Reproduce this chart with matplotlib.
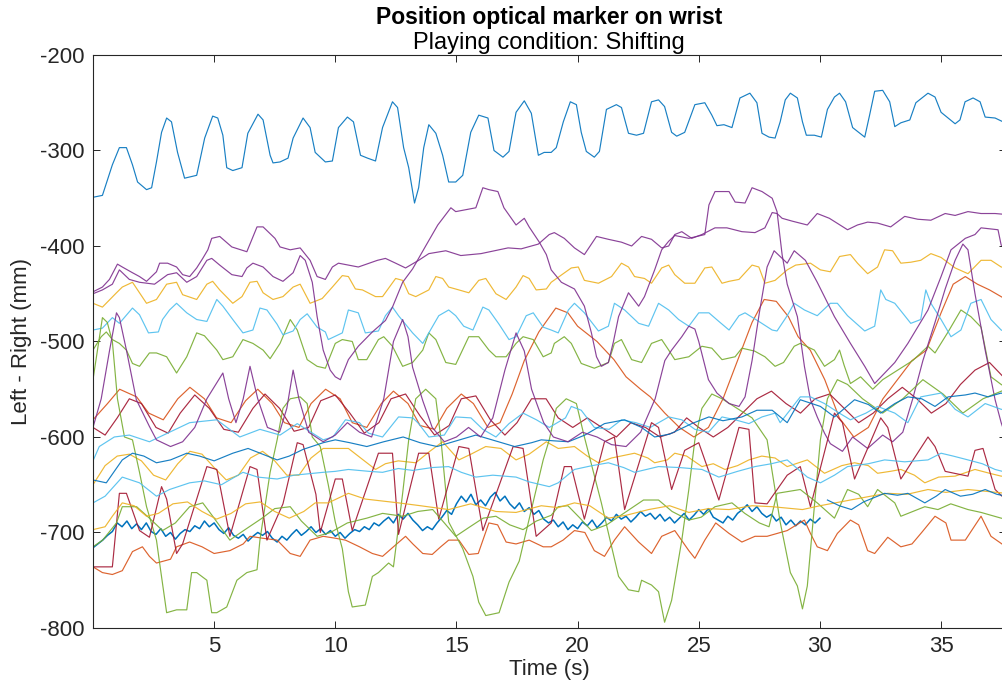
import numpy as np
import matplotlib
matplotlib.use('Agg')
import matplotlib.pyplot as plt

plt.rcParams['font.family'] = ['Liberation Sans', 'DejaVu Sans']
plt.rcParams['axes.unicode_minus'] = False

# (time s, position mm) samples for each trial trace
blue_top = [(0, -349), (0.39, -347), (0.80, -315), (1.09, -297), (1.38, -297), (1.63, -315), (1.84, -333), (2.21, -341),
            (2.42, -339), (2.62, -312), (2.83, -281), (3.04, -266), (3.24, -270), (3.49, -302), (3.78, -329), (4.28, -326),
            (4.61, -287), (4.94, -264), (5.15, -266), (5.36, -284), (5.52, -318), (5.77, -321), (6.15, -318), (6.39, -282),
            (6.81, -262), (7.02, -268), (7.31, -305), (7.43, -313), (7.72, -312), (8.05, -308), (8.26, -287), (8.67, -266),
            (8.96, -276), (9.17, -302), (9.59, -312), (9.88, -311), (10.13, -276), (10.50, -265), (10.75, -270), (11.04, -305),
            (11.33, -308), (11.66, -311), (11.95, -276), (12.36, -249), (12.57, -255), (12.82, -297), (13.03, -318), (13.27, -355),
            (13.44, -339), (13.65, -297), (13.86, -273), (14.15, -282), (14.43, -305), (14.68, -333), (14.97, -333), (15.26, -326),
            (15.59, -281), (15.92, -263), (16.30, -266), (16.55, -300), (16.92, -307), (17.17, -301), (17.46, -260), (17.80, -248),
            (18.09, -261), (18.38, -305), (18.62, -302), (18.91, -302), (19.12, -297), (19.41, -270), (19.70, -249), (19.95, -252),
            (20.15, -281), (20.36, -301), (20.69, -307), (20.90, -301), (21.19, -257), (21.60, -252), (21.81, -255), (22.10, -282),
            (22.43, -284), (22.72, -282), (23.05, -249), (23.34, -247), (23.59, -254), (23.88, -281), (24.09, -285), (24.42, -281),
            (24.84, -252), (25.25, -250), (25.54, -263), (25.75, -274), (26.04, -273), (26.37, -276), (26.70, -245), (27.11, -240),
            (27.40, -250), (27.61, -282), (27.90, -286), (28.15, -287), (28.36, -270), (28.57, -247), (28.78, -240), (29.07, -245),
            (29.28, -270), (29.44, -284), (29.77, -284), (30.06, -286), (30.31, -257), (30.60, -244), (30.81, -240), (31.06, -249),
            (31.35, -276), (31.85, -286), (32.05, -263), (32.26, -238), (32.59, -237), (32.88, -249), (33.09, -275), (33.34, -271),
            (33.71, -268), (33.96, -250), (34.46, -240), (34.75, -244), (35.00, -260), (35.29, -266), (35.58, -272), (35.78, -268),
            (35.99, -249), (36.32, -245), (36.61, -249), (36.82, -265), (37.23, -266), (37.64, -271)]

red_mid = [(0, -582), (0.6, -565), (1.1, -550), (1.8, -558), (2.3, -575), (2.9, -582), (3.5, -560), (4.0, -548), (4.6, -560),
           (5.1, -580), (5.7, -585), (6.3, -562), (6.8, -550), (7.4, -565), (7.9, -585), (8.5, -590), (9.0, -565), (9.6, -550),
           (10.2, -560), (10.7, -585), (11.3, -590), (11.9, -565), (12.4, -552), (13.0, -565), (13.5, -588), (14.1, -592),
           (14.6, -570), (15.2, -555), (15.7, -565), (16.3, -590), (16.8, -585), (17.3, -555), (17.8, -520), (18.4, -490),
           (19.1, -465), (19.6, -470), (20.0, -484), (20.8, -500), (21.5, -519), (22.0, -537), (22.6, -550), (23.0, -558),
           (23.6, -575), (24.2, -590), (24.8, -600), (25.4, -590), (26.0, -560), (26.6, -520), (27.2, -480), (27.7, -456),
           (28.2, -458), (28.7, -474), (29.1, -495), (29.6, -509), (30.2, -540), (30.8, -580), (31.4, -600), (32.0, -590),
           (32.6, -560), (33.2, -540), (33.8, -520), (34.4, -509), (35.0, -470), (35.5, -440), (36.0, -432), (36.5, -440),
           (37.0, -446), (37.68, -456)]

yellow_top = [(0, -460), (0.39, -464), (0.97, -449), (1.21, -443), (1.63, -438), (1.92, -449), (2.21, -460), (2.62, -456),
              (3.04, -440), (3.45, -438), (3.70, -451), (4.28, -456), (4.70, -440), (4.94, -437), (5.23, -446), (5.77, -460),
              (6.15, -453), (6.48, -438), (6.77, -437), (7.02, -449), (7.43, -456), (7.84, -453), (8.26, -443), (8.55, -440),
              (8.96, -460), (9.46, -455), (9.88, -443), (10.29, -431), (10.54, -432), (10.83, -445), (11.12, -446), (11.66, -453),
              (11.95, -453), (12.49, -434), (12.78, -436), (13.03, -450), (13.32, -453), (13.86, -446), (14.15, -432), (14.43, -434),
              (14.68, -443), (15.10, -446), (15.51, -449), (15.92, -436), (16.21, -434), (16.63, -450), (17.05, -456), (17.46, -443),
              (17.75, -431), (18.00, -434), (18.29, -446), (18.71, -445), (18.91, -438), (19.74, -423), (20.03, -422), (20.28, -436),
              (20.86, -439), (21.40, -432), (21.81, -418), (22.10, -422), (22.35, -432), (22.76, -434), (23.05, -439), (23.47, -423),
              (23.76, -420), (24.01, -430), (24.42, -439), (24.84, -439), (25.25, -423), (25.54, -422), (25.96, -439), (26.25, -437),
              (26.66, -435), (27.20, -420), (27.48, -422), (27.73, -439), (28.15, -436), (28.65, -425), (29.0, -420), (29.61, -418),
              (30.02, -425), (30.43, -427), (30.81, -411), (31.26, -409), (31.55, -418), (31.97, -429), (32.38, -422), (32.67, -404),
              (33.0, -405), (33.34, -418), (33.75, -417), (34.16, -415), (34.58, -408), (35.0, -412), (35.58, -423), (36.11, -429),
              (36.65, -415), (37.06, -415), (37.48, -422), (37.68, -423)]

purple_top = [(0, -448), (0.39, -443), (0.68, -435), (1.01, -419), (1.21, -422), (1.63, -428), (1.92, -432), (2.21, -437),
              (2.62, -427), (2.75, -418), (3.08, -418), (3.45, -422), (3.70, -430), (3.99, -432), (4.28, -423), (4.53, -413),
              (4.74, -404), (4.90, -392), (5.23, -390), (5.73, -401), (6.35, -406), (6.77, -380), (7.02, -380), (7.51, -392),
              (7.72, -401), (8.14, -404), (8.55, -402), (8.96, -415), (9.25, -432), (9.59, -435), (9.88, -422), (10.13, -418),
              (10.95, -422), (11.74, -415), (12.07, -413), (12.49, -418), (12.90, -423), (13.44, -415), (13.86, -408), (14.56, -405),
              (15.18, -410), (16.01, -408), (17.13, -402), (17.67, -403), (18.38, -398), (18.83, -388), (19.04, -386), (19.45, -392),
              (19.87, -402), (20.28, -409), (20.78, -390), (21.27, -393), (21.81, -396), (22.23, -400), (22.64, -390), (23.05, -393),
              (23.47, -402), (23.76, -400), (24.01, -388), (24.30, -385), (24.71, -392), (25.13, -388), (25.67, -381), (26.16, -381),
              (26.78, -385), (27.32, -386), (27.73, -381), (28.03, -365), (28.23, -366), (28.44, -371), (28.86, -374), (29.48, -378),
              (29.89, -366), (30.39, -371), (31.14, -383), (31.55, -378), (31.97, -375), (32.38, -376), (32.92, -380), (33.50, -369),
              (34.04, -372), (34.58, -373), (35.17, -366), (35.58, -368), (36.11, -364), (36.65, -366), (37.23, -366), (37.68, -367)]

green_top = [(0, -509), (0.34, -495), (0.55, -490), (0.80, -498), (1.09, -502), (1.38, -509), (1.63, -523), (1.92, -526),
             (2.33, -512), (2.62, -512), (3.04, -516), (3.45, -533), (3.87, -516), (4.28, -491), (4.6, -494), (5.11, -509),
             (5.36, -519), (5.77, -516), (6.19, -498), (6.60, -502), (7.02, -509), (7.31, -518), (7.72, -502), (8.14, -477),
             (8.43, -488), (8.84, -519), (9.25, -526), (9.59, -528), (10.0, -502), (10.29, -498), (10.7, -500), (10.95, -519),
             (11.3, -519), (11.78, -498), (12.0, -495), (12.36, -505), (12.78, -526), (13.19, -522), (13.61, -509), (13.86, -491),
             (14.15, -498), (14.56, -522), (14.97, -524), (15.51, -495), (15.92, -495), (16.34, -509), (16.63, -516), (17.05, -516),
             (17.46, -502), (17.75, -495), (18.17, -498), (18.58, -516), (18.91, -512), (19.04, -502), (19.45, -495), (19.74, -502),
             (20.15, -523), (20.69, -528), (21.27, -522), (21.52, -502), (21.81, -498), (22.23, -519), (22.64, -522), (23.05, -502),
             (23.47, -498), (23.76, -509), (24.01, -519), (24.59, -516), (25.13, -505), (25.54, -507), (25.96, -519), (26.5, -516),
             (26.78, -507), (27.3, -510), (27.73, -516), (28.15, -526), (28.5, -522), (28.94, -505), (29.19, -502), (29.77, -509),
             (30.19, -526), (30.60, -519), (30.81, -509), (31.0, -525), (31.26, -544), (31.68, -537), (32.18, -550), (32.59, -540),
             (33.21, -530), (33.83, -520), (34.46, -505), (34.75, -512), (35.29, -490), (35.82, -467), (36.23, -474), (36.65, -485),
             (37.06, -537), (37.48, -545), (37.68, -548)]

cyan_top = [(0, -488), (0.39, -486), (0.80, -475), (1.09, -481), (1.63, -465), (1.92, -472), (2.29, -491), (2.7, -490),
            (2.87, -477), (3.16, -467), (3.45, -460), (3.87, -470), (4.28, -477), (4.70, -479), (5.11, -456), (5.36, -463),
            (5.77, -477), (6.19, -491), (6.60, -488), (6.89, -465), (7.18, -467), (7.60, -482), (7.84, -493), (8.26, -489),
            (8.55, -477), (8.84, -471), (9.25, -485), (9.59, -490), (9.71, -498), (10.29, -491), (10.54, -467), (10.95, -470),
            (11.24, -491), (11.78, -489), (12.07, -473), (12.36, -464), (12.61, -473), (13.19, -491), (13.61, -502), (13.86, -491),
            (14.27, -473), (14.68, -467), (14.97, -473), (15.3, -484), (15.68, -488), (16.09, -464), (16.34, -467), (16.76, -482),
            (17.17, -498), (17.46, -495), (17.88, -473), (18.17, -470), (18.58, -485), (18.91, -488), (19.2, -491), (19.62, -467),
            (19.87, -460), (20.28, -470), (20.86, -489), (21.27, -484), (21.52, -460), (21.94, -467), (22.52, -481), (22.93, -484),
            (23.34, -460), (23.76, -467), (24.17, -477), (24.59, -484), (25.0, -470), (25.42, -470), (25.83, -479), (26.25, -488),
            (26.66, -473), (26.91, -470), (27.48, -479), (28.03, -488), (28.23, -489), (28.65, -473), (28.94, -460), (29.36, -467),
            (29.89, -473), (30.43, -460), (30.72, -460), (31.14, -473), (31.85, -489), (32.26, -484), (32.51, -446), (32.72, -456),
            (33.09, -460), (33.50, -473), (33.75, -481), (34.16, -477), (34.37, -446), (34.58, -460), (35.0, -477), (35.41, -495),
            (35.82, -488), (36.23, -460), (36.65, -456), (37.06, -477), (37.48, -488), (37.68, -490)]

darkred_mid = [(0, -590), (0.5, -598), (1.0, -580), (1.5, -560), (2.0, -565), (2.6, -590), (3.1, -596), (3.6, -575), (4.2, -556),
               (4.8, -570), (5.4, -592), (6.0, -595), (6.6, -570), (7.1, -555), (7.7, -570), (8.3, -594), (8.9, -590), (9.4, -562),
               (10.0, -556), (10.6, -575), (11.2, -596), (11.8, -585), (12.3, -560), (12.9, -555), (13.5, -578), (14.1, -598),
               (14.7, -588), (15.2, -560), (15.8, -557), (16.4, -582), (17.0, -598), (17.5, -585), (18.1, -560), (18.7, -560),
               (19.2, -580), (19.8, -590), (20.4, -580), (21.0, -590), (21.6, -600), (22.2, -585), (22.8, -590), (23.4, -600),
               (24.0, -595), (24.5, -580), (25.0, -590), (25.6, -600), (26.2, -590), (26.8, -575), (27.4, -560), (28.0, -552),
               (28.6, -565), (29.2, -575), (29.8, -560), (30.4, -555), (31.0, -570), (31.6, -585), (32.2, -575), (32.8, -560),
               (33.4, -548), (34.0, -560), (34.6, -575), (35.2, -565), (35.8, -545), (36.4, -530), (37.0, -522), (37.68, -540)]

# noisy trace sampled every 0.2 s from t = 0
blue_noisy_y = [-716, -712, -708, -703, -699, -690, -694, -688, -696, -691, -697, -690, -699, -702, -696,
                -704, -700, -707, -701, -697, -699, -693, -696, -688, -694, -690, -697, -701, -695, -703,
                -706, -702, -709, -704, -700, -703, -699, -706, -710, -704, -708, -702, -697, -703, -699,
                -694, -700, -696, -702, -698, -704, -700, -706, -701, -697, -699, -694, -697, -690, -693,
                -688, -684, -690, -681, -686, -680, -687, -692, -698, -694, -697, -690, -684, -677, -681,
                -670, -662, -668, -660, -671, -666, -672, -663, -658, -667, -662, -670, -675, -669, -678,
                -674, -681, -677, -686, -690, -687, -694, -689, -697, -692, -696, -689, -693, -687, -695,
                -690, -684, -688, -681, -686, -683, -689, -684, -678, -683, -680, -686, -681, -688, -684,
                -690, -685, -680, -687, -682, -676, -681, -675, -684, -687, -690, -683, -687, -680, -676,
                -671, -678, -673, -680, -684, -681, -688, -684, -692, -687, -693, -688, -692, -686, -690, -685]
blue_late = [(30.31, -666), (30.8, -672), (31.3, -676), (31.8, -668), (32.67, -659), (33.2, -661), (33.63, -659),
             (34.33, -669), (34.8, -662), (35.17, -655), (35.8, -662), (36.3, -660), (36.82, -655), (37.3, -660), (37.68, -662)]

red_low = [(0, -736), (0.39, -742), (0.80, -744), (1.21, -740), (1.63, -720), (2.04, -715), (2.33, -725), (2.62, -732),
           (3.2, -728), (3.45, -715), (3.99, -710), (4.5, -715), (5.0, -722), (5.65, -719), (6.2, -712), (6.48, -704),
           (7.0, -706), (7.60, -708), (8.14, -722), (8.55, -725), (8.96, -708), (9.50, -704), (10.0, -706), (10.42, -708),
           (11.0, -715), (11.53, -722), (11.95, -725), (12.4, -715), (12.90, -704), (13.2, -712), (13.61, -722), (14.0, -723),
           (14.35, -715), (14.68, -708), (15.1, -708), (15.51, -723), (15.9, -722), (16.34, -690), (16.7, -692), (17.05, -710),
           (17.46, -712), (18.00, -708), (18.58, -715), (18.91, -715), (19.4, -708), (19.87, -698), (20.3, -700), (20.69, -719),
           (21.11, -725), (21.52, -708), (21.94, -694), (22.52, -710), (23.05, -722), (23.47, -704), (24.01, -698), (24.59, -719),
           (24.84, -727), (25.25, -708), (25.7, -690), (26.25, -701), (26.78, -710), (27.32, -704), (27.82, -704), (28.65, -698),
           (29.36, -687), (29.61, -701), (29.89, -715), (30.31, -719), (30.72, -701), (31.26, -687), (31.6, -692), (31.97, -719),
           (32.26, -722), (32.8, -705), (33.34, -715), (33.8, -712), (34.2, -700), (34.75, -683), (35.2, -690), (35.41, -708),
           (36.0, -708), (36.65, -683), (37.06, -704), (37.68, -715)]

yellow_mid = [(0, -650), (0.5, -630), (1.0, -620), (1.5, -618), (2.0, -625), (2.5, -640), (3.0, -645), (3.5, -628), (4.0, -615),
              (4.5, -618), (5.0, -632), (5.5, -645), (6.0, -640), (6.5, -622), (7.0, -615), (7.5, -625), (8.0, -640), (8.5, -640),
              (9.0, -622), (9.5, -612), (10.0, -612), (10.54, -612), (11.2, -625), (11.66, -634), (12.07, -628), (12.6, -625),
              (13.32, -627), (13.9, -615), (14.43, -605), (15.10, -624), (15.6, -618), (16.21, -610), (16.84, -612), (17.46, -624),
              (18.00, -618), (18.71, -605), (19.2, -612), (19.87, -610), (20.4, -620), (20.86, -627), (21.4, -622), (22.35, -617),
              (22.9, -622), (23.18, -627), (23.7, -624), (24.01, -617), (24.5, -620), (25.13, -631), (25.6, -628), (26.08, -634),
              (26.6, -630), (27.07, -624), (27.6, -620), (28.15, -622), (28.65, -631), (29.48, -624), (30.19, -638), (30.9, -630),
              (31.43, -627), (32.0, -630), (32.38, -638), (32.9, -636), (33.34, -634), (33.9, -640), (34.33, -648), (34.9, -642),
              (35.58, -641), (36.40, -634), (37.0, -638), (37.48, -641), (37.68, -641)]

purple_wide = [(0, -450), (0.39, -446), (0.80, -440), (1.09, -425), (1.50, -435), (1.92, -438), (2.54, -440), (3.08, -430),
               (3.45, -428), (3.87, -438), (4.28, -432), (4.70, -415), (4.90, -413), (5.23, -420), (5.73, -430), (6.15, -432),
               (6.35, -423), (6.60, -418), (7.02, -422), (7.43, -432), (7.84, -437), (8.26, -428), (8.55, -410), (8.76, -415),
               (9.05, -438), (9.25, -474), (9.50, -509), (9.79, -530), (10.00, -537), (10.21, -540), (10.54, -519), (10.95, -505),
               (11.53, -490), (12.07, -478), (12.36, -464), (12.78, -438), (13.19, -424), (13.73, -400), (14.23, -378), (14.77, -360),
               (14.97, -364), (15.80, -360), (16.09, -339), (16.34, -341), (16.71, -343), (16.96, -360), (17.46, -378), (17.80, -371),
               (18.00, -380), (18.42, -396), (18.71, -409), (18.91, -425), (19.33, -438), (19.87, -445), (20.28, -463), (20.57, -491),
               (20.78, -516), (20.98, -526), (21.27, -522), (21.48, -500), (21.69, -474), (22.10, -449), (22.52, -463), (22.76, -453),
               (23.18, -425), (23.47, -404), (23.76, -395), (24.01, -389), (24.59, -392), (25.25, -388), (25.42, -357), (25.67, -343),
               (26.25, -343), (26.50, -354), (26.91, -355), (27.20, -339), (27.61, -343), (28.03, -350), (28.23, -364), (28.44, -409),
               (28.65, -440), (29.07, -474), (29.36, -526), (29.61, -561), (29.89, -579), (30.19, -596), (30.43, -607), (30.93, -615),
               (31.35, -600), (31.97, -612), (32.59, -598), (33.0, -605), (33.42, -595), (33.83, -560), (34.25, -520), (34.75, -480),
               (35.17, -445), (35.58, -415), (35.90, -398), (36.11, -404), (36.40, -450), (36.82, -509), (37.23, -561), (37.48, -585),
               (37.68, -600)]

green_dives = [(0, -540), (0.39, -475), (0.59, -480), (0.80, -500), (1.01, -560), (1.30, -600), (1.63, -603), (1.92, -637),
               (2.21, -673), (2.62, -708), (2.75, -732), (3.04, -784), (3.45, -781), (3.87, -781), (4.07, -742), (4.28, -742),
               (4.70, -750), (4.90, -784), (5.11, -784), (5.52, -778), (5.94, -750), (6.35, -742), (6.77, -739), (6.89, -708),
               (7.31, -637), (7.60, -603), (7.84, -570), (8.14, -560), (8.55, -558), (8.84, -565), (9.05, -600), (9.38, -610),
               (9.71, -650), (10.0, -689), (10.29, -717), (10.54, -762), (10.70, -778), (11.24, -776), (11.53, -746), (11.78, -742),
               (12.20, -732), (12.40, -736), (12.78, -659), (13.03, -603), (13.32, -560), (13.73, -550), (14.15, -560), (14.35, -600),
               (14.68, -689), (15.26, -717), (15.68, -746), (15.92, -773), (16.21, -787), (16.76, -784), (17.17, -752), (17.59, -730),
               (18.00, -686), (18.58, -624), (18.83, -603), (19.12, -570), (19.53, -560), (19.95, -565), (20.28, -600), (20.98, -669),
               (21.69, -746), (22.10, -760), (22.52, -762), (22.64, -750), (23.05, -755), (23.34, -762), (23.59, -794), (23.88, -771),
               (24.30, -708), (24.59, -655), (24.84, -603), (25.13, -570), (25.54, -555), (25.96, -560), (26.58, -570), (27.20, -580),
               (27.82, -603), (28.36, -689), (28.78, -742), (29.07, -756), (29.28, -780), (29.48, -756), (29.77, -673), (30.02, -603),
               (30.31, -560), (30.72, -540), (31.14, -545), (31.76, -560), (32.59, -575), (33.42, -560), (34.25, -540), (35.08, -555),
               (35.90, -575), (36.73, -560), (37.68, -550)]

cyan_mid = [(0, -625), (0.26, -610), (0.88, -600), (1.50, -598), (2.33, -605), (3.16, -595), (3.99, -585), (5.11, -582),
            (6.06, -600), (6.89, -592), (7.72, -598), (8.43, -586), (9.50, -603), (9.9, -600), (10.42, -582), (11.0, -585),
            (11.37, -596), (11.95, -600), (12.61, -579), (13.2, -580), (13.44, -586), (13.86, -600), (14.5, -598), (14.97, -579),
            (15.6, -580), (16.09, -592), (16.63, -600), (17.17, -586), (17.75, -575), (18.3, -582), (18.83, -590), (19.5, -580),
            (19.74, -568), (20.15, -572), (20.69, -590), (21.3, -592), (21.81, -582), (22.4, -585), (23.0, -590), (23.76, -579),
            (24.3, -582), (24.84, -592), (25.4, -595), (25.96, -579), (26.5, -582), (27.07, -586), (27.61, -579), (28.15, -575),
            (28.36, -585), (29.19, -558), (29.61, -558), (30.19, -565), (30.8, -575), (31.26, -582), (31.9, -575), (32.38, -568),
            (33.09, -575), (33.63, -585), (34.16, -558), (35.0, -554), (35.58, -571), (36.11, -579), (36.82, -565), (37.48, -571),
            (37.68, -572)]

darkred_spiky = [(0, -736), (0.80, -736), (1.09, -659), (1.38, -659), (1.92, -698), (2.33, -705), (2.83, -652), (3.04, -665),
                 (3.45, -722), (3.70, -712), (4.70, -631), (5.11, -634), (5.65, -704), (6.48, -631), (6.77, -634), (7.18, -708),
                 (7.84, -670), (8.43, -606), (8.67, -608), (9.2, -660), (9.38, -700), (10.00, -644), (10.29, -644), (10.70, -698),
                 (11.78, -617), (12.36, -617), (12.61, -702), (13.44, -617), (13.86, -617), (14.27, -686), (15.10, -610),
                 (15.51, -612), (16.09, -698), (17.34, -610), (17.75, -612), (18.29, -704), (18.91, -690), (19.45, -631),
                 (19.74, -631), (20.28, -686), (21.11, -605), (21.52, -600), (21.94, -676), (23.05, -585), (23.34, -590),
                 (23.88, -655), (24.42, -614), (25.00, -606), (25.83, -666), (26.66, -590), (27.07, -592), (27.32, -669),
                 (27.82, -670), (28.65, -640), (29.19, -631), (29.61, -673), (30.60, -575), (30.93, -585), (31.43, -644),
                 (32.51, -580), (32.80, -590), (33.34, -644), (34.46, -600), (34.75, -610), (35.17, -636), (36.11, -641),
                 (36.40, -614), (36.73, -612), (37.23, -655), (37.68, -666)]

blue_mid = [(0, -645), (0.55, -648), (1.21, -624), (1.63, -617), (2.1, -620), (2.62, -627), (3.2, -624), (3.87, -617),
            (4.4, -620), (5.0, -625), (5.77, -617), (6.4, -612), (7.0, -618), (7.60, -624), (8.1, -620), (8.67, -613),
            (9.50, -606), (10.0, -603), (10.6, -606), (11.3, -610), (12.0, -605), (12.8, -600), (13.5, -606), (14.2, -610),
            (15.0, -604), (15.8, -598), (16.6, -604), (17.4, -610), (18.1, -606), (18.50, -603), (19.0, -604), (19.62, -605),
            (20.3, -598), (21.11, -586), (21.94, -582), (22.64, -590), (23.18, -600), (23.8, -597), (24.71, -586), (25.42, -579),
            (26.0, -583), (26.78, -579), (27.40, -572), (28.03, -572), (28.65, -585), (29.19, -561), (30.02, -568), (30.60, -579),
            (31.43, -561), (32.0, -566), (32.51, -575), (33.09, -565), (33.63, -558), (34.2, -560), (34.75, -568), (35.29, -558),
            (36.0, -556), (36.40, -554), (36.94, -558), (37.48, -554), (37.68, -556)]

purple_low = [(0, -590), (0.34, -560), (0.68, -510), (0.97, -470), (1.09, -475), (1.38, -509), (1.79, -561), (2.33, -589),
              (2.62, -603), (3.2, -610), (3.7, -605), (4.2, -590), (4.7, -560), (5.36, -533), (5.6, -560), (5.9, -585),
              (6.2, -560), (6.48, -526), (6.8, -560), (7.2, -590), (7.7, -595), (8.0, -570), (8.26, -530), (8.5, -560),
              (8.9, -595), (9.5, -605), (10.0, -598), (10.5, -585), (11.0, -595), (11.5, -600), (12.0, -560), (12.4, -500),
              (12.78, -477), (13.0, -495), (13.19, -527), (13.61, -562), (14.0, -590), (14.5, -605), (15.0, -600), (15.5, -590),
              (16.0, -600), (16.5, -580), (17.0, -530), (17.46, -491), (17.8, -510), (18.1, -550), (18.6, -585), (19.0, -600),
              (19.6, -605), (20.2, -595), (20.8, -600), (21.4, -608), (22.0, -610), (22.6, -595), (23.2, -560), (23.6, -520),
              (23.88, -509), (24.30, -495), (24.59, -484), (24.84, -487), (25.0, -500), (25.4, -540), (25.75, -554), (26.25, -565),
              (26.66, -568), (26.91, -558), (27.2, -520), (27.5, -470), (27.82, -422), (28.11, -405), (28.65, -418), (28.94, -405),
              (29.4, -415), (29.89, -438), (30.60, -474), (31.26, -502), (31.85, -526), (32.26, -544), (33.09, -522), (33.63, -502),
              (34.46, -467), (35.00, -432), (35.41, -404), (36.0, -392), (36.40, -388), (36.65, -381), (37.35, -383), (37.48, -399),
              (37.68, -402)]

green_low = [(0, -715), (0.4, -708), (0.97, -690), (1.21, -673), (1.8, -673), (2.33, -685), (2.87, -698), (3.4, -690),
             (3.99, -673), (4.53, -669), (5.0, -685), (5.65, -708), (6.1, -700), (6.98, -685), (7.5, -675), (8.14, -673),
             (8.6, -688), (9.25, -704), (9.8, -700), (10.5, -690), (11.3, -685), (11.95, -680), (12.78, -683), (13.4, -678),
             (14.02, -676), (14.5, -690), (14.97, -704), (15.5, -695), (16.1, -685), (16.63, -683), (17.2, -692), (17.75, -697),
             (18.3, -688), (18.91, -682), (19.20, -673), (19.6, -672), (20.1, -685), (20.57, -698), (21.2, -692), (21.9, -680),
             (22.72, -666), (23.34, -666), (23.9, -678), (24.59, -687), (25.1, -684), (25.67, -673), (26.37, -669), (26.9, -680),
             (27.5, -690), (27.90, -694), (28.23, -659), (29.19, -655), (29.89, -669), (30.60, -685), (31.14, -655), (31.6, -660),
             (31.97, -673), (32.38, -655), (33.09, -669), (33.34, -683), (34.33, -673), (34.87, -676), (35.4, -670), (36.11, -676),
             (36.65, -679), (37.48, -685), (37.68, -686)]

cyan_low = [(0, -669), (0.5, -662), (1.21, -642), (1.92, -648), (2.62, -662), (3.16, -655), (3.99, -648), (4.6, -646),
            (5.3, -650), (6.19, -637), (6.8, -642), (7.60, -644), (8.3, -640), (9.50, -637), (10.0, -636), (10.54, -634),
            (11.4, -636), (11.95, -637), (12.6, -633), (13.2, -635), (14.0, -632), (14.68, -631), (15.2, -637), (15.80, -642),
            (16.5, -640), (17.46, -642), (18.0, -647), (18.83, -652), (19.20, -648), (19.87, -634), (20.6, -630), (21.27, -627),
            (21.9, -632), (22.35, -637), (23.34, -631), (24.2, -632), (25.13, -634), (25.83, -642), (26.6, -636), (27.32, -631),
            (28.0, -628), (28.65, -624), (29.48, -642), (30.02, -648), (30.6, -640), (31.14, -631), (32.0, -628), (32.67, -624),
            (33.5, -626), (34.46, -624), (35.00, -617), (35.5, -620), (36.11, -624), (36.7, -628), (37.23, -634), (37.68, -637)]

yellow_low = [(0, -697), (0.5, -694), (0.80, -683), (1.21, -669), (1.7, -672), (2.21, -683), (2.7, -680), (3.3, -670),
              (3.9, -668), (4.5, -678), (5.1, -686), (5.7, -680), (6.3, -670), (6.9, -668), (7.5, -678), (8.1, -685),
              (8.7, -678), (9.17, -669), (9.71, -669), (10.54, -659), (11.24, -665), (12.61, -669), (13.52, -672), (14.68, -676),
              (15.59, -670), (16.63, -678), (17.46, -679), (18.50, -672), (19.2, -674), (19.87, -669), (20.5, -672), (21.27, -685),
              (22.0, -682), (22.93, -676), (23.8, -672), (24.59, -679), (25.4, -675), (26.25, -676), (27.2, -672), (28.03, -673),
              (29.28, -676), (30.0, -672), (31.26, -666), (32.1, -662), (32.80, -659), (33.6, -660), (34.46, -655), (35.2, -658),
              (36.11, -655), (36.9, -657), (37.68, -659)]

# MATLAB default colour order
c_blue, c_red, c_yellow = '#0072BD', '#D95319', '#EDB120'
c_purple, c_green, c_cyan, c_darkred = '#7E2F8E', '#77AC30', '#4DBEEE', '#A2142F'

traces = [(blue_top, c_blue), (red_mid, c_red), (yellow_top, c_yellow), (purple_top, c_purple),
          (green_top, c_green), (cyan_top, c_cyan), (darkred_mid, c_darkred),
          (None, c_blue), (red_low, c_red), (yellow_mid, c_yellow), (purple_wide, c_purple),
          (green_dives, c_green), (cyan_mid, c_cyan), (darkred_spiky, c_darkred),
          (blue_mid, c_blue), (purple_low, c_purple), (green_low, c_green), (cyan_low, c_cyan),
          (yellow_low, c_yellow), (blue_late, c_blue)]

fig = plt.figure(figsize=(10.03, 6.84), dpi=100)
ax = fig.add_axes([0.0927, 0.0819, 0.9103, 0.8377])

for pts, col in traces:
    if pts is None:
        t = np.arange(len(blue_noisy_y)) * 0.2
        ax.plot(t, blue_noisy_y, color=col, lw=1.1)
        continue
    t, y = zip(*pts)
    ax.plot(t, y, color=col, lw=0.85, alpha=0.9)

ax.set_xlim(0, 37.68)
ax.set_ylim(-800, -200)
ax.set_xticks(range(5, 36, 5))
ax.set_yticks(range(-800, -199, 100))
ax.tick_params(direction='in', top=True, right=True, length=5, width=0.7,
               labelsize=16, colors='#262626', pad=6)
for s in ax.spines.values():
    s.set_color('#262626')
    s.set_linewidth(0.8)

ax.set_xlabel('Time (s)', fontsize=16, color='#262626', labelpad=1)
ax.set_ylabel('Left - Right (mm)', fontsize=16, color='#262626', labelpad=6)
fig.text(0.5475, 0.974, 'Position optical marker on wrist', ha='center', va='center',
         fontsize=16.5, fontweight='bold', color='black')
fig.text(0.5475, 0.937, 'Playing condition: Shifting', ha='center', va='center',
         fontsize=17, color='black')

fig.savefig('out.png', dpi=100)
